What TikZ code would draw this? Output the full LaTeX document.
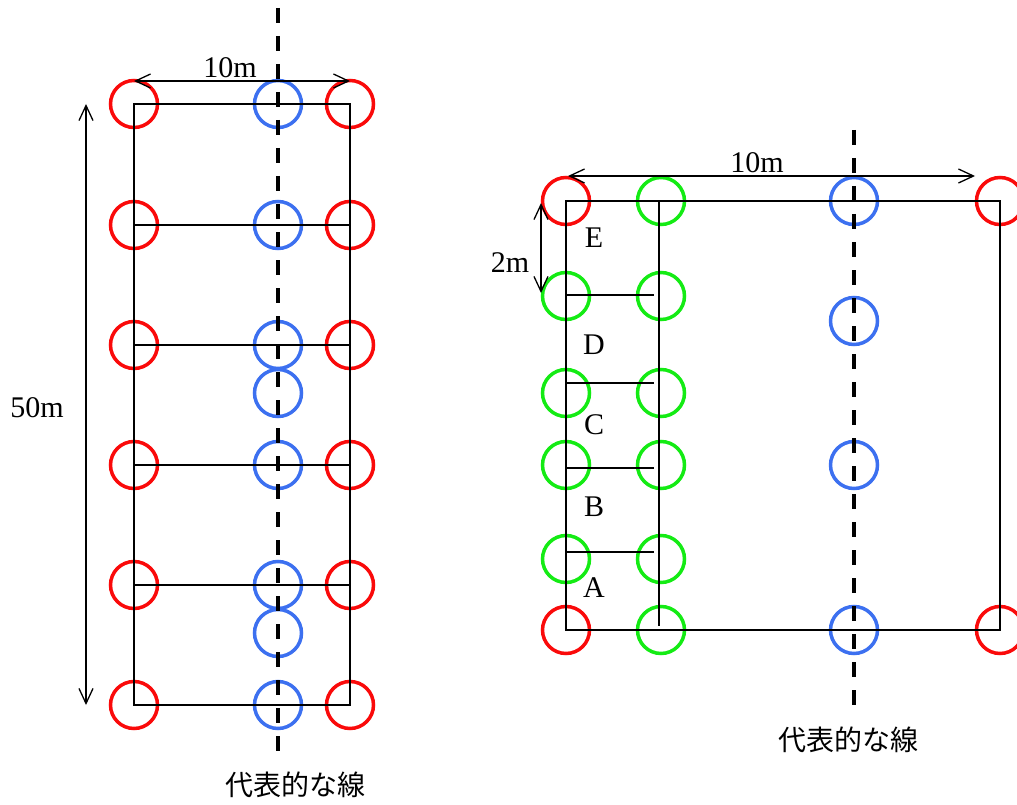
\documentclass[tikz,border=0pt]{standalone}
\usepackage{fontspec}
\setmainfont{Liberation Serif}
\newfontfamily\cjk{Noto Sans CJK JP}
\usetikzlibrary{arrows.meta}
\definecolor{myred}{RGB}{250,10,10}
\definecolor{myblue}{RGB}{60,112,240}
\definecolor{mygreen}{RGB}{20,235,20}
\begin{document}
\begin{tikzpicture}[x=1pt,y=-1pt,
  ring/.style={circle,line width=3.5pt,minimum size=47pt,inner sep=0pt},
  redc/.style={ring,draw=myred},
  bluec/.style={ring,draw=myblue},
  greenc/.style={ring,draw=mygreen},
  frame/.style={line width=1.8pt},
  dimline/.style={line width=1.3pt,{Straight Barb[length=15pt,width=14pt,line width=1.3pt]}-{Straight Barb[length=15pt,width=14pt,line width=1.3pt]}},
  axisline/.style={line width=4pt,dash pattern=on 15pt off 13pt},
  lab/.style={font=\fontsize{30}{33}\selectfont,inner sep=0pt},
  jp/.style={font=\cjk\fontsize{28}{32}\selectfont,inner sep=0pt}]
\useasboundingbox (0,0) rectangle (1017,805);

% ---------- left diagram ----------
\foreach \i/\y in {1/104,2/225,3/345,4/465,5/585,6/705}{
  \node[redc] (rl\i) at (134,\y) {};
  \node[redc] (rr\i) at (350,\y) {};
}
\foreach \i/\y in {1/104,2/225,3/345,4/393,5/465,6/585,7/633,8/705}{
  \node[bluec] (bl\i) at (278,\y) {};
}
\draw[frame] (rl1.center) -- (rr1.center) -- (rr6.center) -- (rl6.center) -- cycle;
\foreach \i in {2,3,4,5}{
  \draw[frame] (rl\i.center) -- (rr\i.center);
}
\coordinate (lt) at (278,8);
\coordinate (lb) at (278,755);
\draw[axisline] (lt) -- (lb);

\coordinate (wa) at (134,81);
\coordinate (wb) at (350,81);
\draw[dimline] (wa) -- (wb);
\node[lab] (w10) at (230,68) {10m};

\coordinate (ha) at (86,104);
\coordinate (hb) at (86,705);
\draw[dimline] (ha) -- (hb);
\node[lab] (h50) at (37,408) {50m};

\node[jp] (jpl) at (295,785) {代表的な線};

% ---------- right diagram ----------
\node[redc] (ra) at (566,201) {};
\node[redc] (rb) at (1000,201) {};
\node[redc] (rc) at (566,630) {};
\node[redc] (rd) at (1000,630) {};
\foreach \i/\y in {1/296,2/393,3/465,4/559}{
  \node[greenc] (gl\i) at (566,\y) {};
  \node[greenc] (gr\i) at (661,\y) {};
}
\node[greenc] (gt) at (661,201) {};
\node[greenc] (gb) at (661,630) {};
\foreach \i/\y in {1/201,2/321,3/465,4/630}{
  \node[bluec] (br\i) at (854,\y) {};
}
\draw[frame] (ra.center) -- (rb.center) -- (rd.center) -- (rc.center) -- cycle;
\coordinate (vt) at (659,201);
\coordinate (vb) at (659,626);
\draw[frame] (vt) -- (vb);
\foreach \i/\y in {1/295,2/383,3/468,4/552}{
  \coordinate (hl\i) at (566,\y);
  \coordinate (hr\i) at (654,\y);
  \draw[frame] (hl\i) -- (hr\i);
}
\coordinate (rt) at (854,130);
\coordinate (rbm) at (854,705);
\draw[axisline] (rt) -- (rbm);

\coordinate (ta) at (568,176);
\coordinate (tb) at (975,176);
\draw[dimline] (ta) -- (tb);
\node[lab] (t10) at (757,163) {10m};

\coordinate (sa) at (541,203);
\coordinate (sb) at (541,293);
\draw[dimline] (sa) -- (sb);
\node[lab] (s2) at (510,263) {2m};

\node[lab] (le) at (594,238) {E};
\node[lab] (ld) at (594,345) {D};
\node[lab] (lc) at (594,425) {C};
\node[lab] (lbb) at (594,507) {B};
\node[lab] (la) at (594,588) {A};

\node[jp] (jpr) at (848,740) {代表的な線};
\end{tikzpicture}
\end{document}
